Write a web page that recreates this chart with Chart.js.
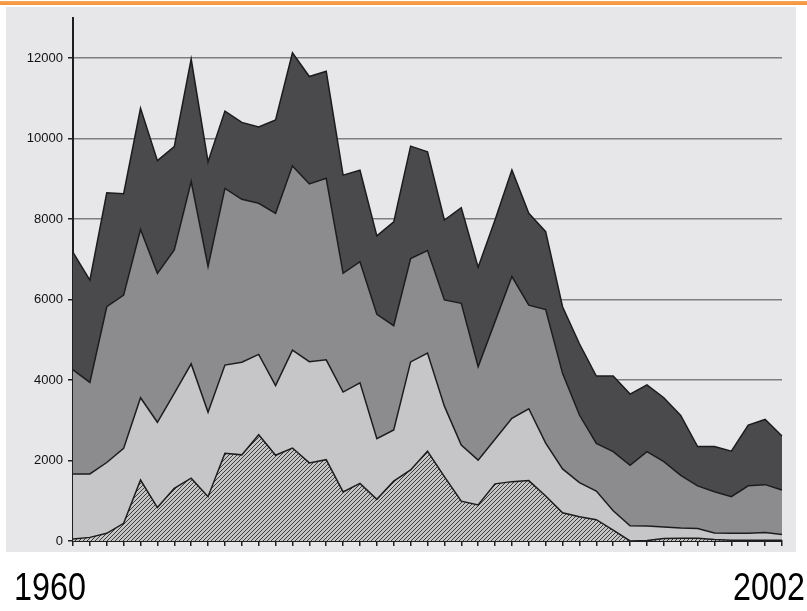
<!DOCTYPE html>
<html>
<head>
<meta charset="utf-8">
<script src="https://cdn.jsdelivr.net/npm/chart.js@4"></script>
<style>
  html, body { margin: 0; padding: 0; background: #ffffff; }
  body { width: 807px; height: 611px; position: relative; overflow: hidden; font-family: "Liberation Sans", Arial, sans-serif; }
  #topline { position: absolute; left: 0; top: 1px; width: 807px; height: 4px; background: linear-gradient(#f6a552, #f7923a); }
  #paper { position: absolute; left: 6px; top: 7px; width: 790px; height: 545px; background: #e7e7e9; }
  #wrap { position: absolute; left: 0; top: 0; width: 807px; height: 611px; }
  .yr { position: absolute; top: 568px; font-size: 38px; line-height: 38px; color: #000; transform: scaleX(0.85); transform-origin: left top; white-space: nowrap; }
</style>
</head>
<body>
<div id="topline"></div>
<div id="paper"></div>
<div id="wrap"><canvas id="c" width="807" height="611"></canvas></div>
<div class="yr" style="left:14px">1960</div>
<div class="yr" style="left:733px">2002</div>
<script>
// Years 1960..2002
const years = [];
for (let y = 1960; y <= 2002; y++) years.push(String(y));

// Four stacked series, bottom to top
const seriesBottom = [50, 90, 190, 440, 1515, 830, 1310, 1560, 1100, 2180, 2140, 2640, 2130, 2310, 1940, 2020, 1220, 1430, 1035, 1490, 1765, 2230, 1600, 990, 895, 1420, 1475, 1500, 1120, 700, 600, 530, 270, 0, 10, 60, 70, 70, 40, 20, 20, 20, 20];
const seriesLight  = [1615, 1575, 1760, 1860, 2045, 2120, 2360, 2840, 2100, 2190, 2300, 1995, 1730, 2430, 2515, 2480, 2480, 2500, 1505, 1270, 2685, 2440, 1750, 1395, 1115, 1110, 1575, 1785, 1310, 1090, 850, 710, 480, 380, 360, 290, 250, 240, 160, 170, 170, 190, 140];
const seriesMedium = [2585, 2275, 3870, 3810, 4180, 3700, 3560, 4530, 3620, 4390, 4050, 3755, 4280, 4580, 4415, 4510, 2950, 3010, 3090, 2590, 2570, 2545, 2640, 3520, 2320, 2920, 3520, 2575, 3320, 2375, 1680, 1185, 1470, 1500, 1850, 1620, 1310, 1060, 1025, 910, 1180, 1190, 1105];
const seriesDark   = [2920, 2540, 2830, 2520, 3010, 2800, 2570, 3045, 2600, 1920, 1910, 1895, 2320, 2810, 2670, 2660, 2440, 2270, 1950, 2580, 2790, 2455, 1985, 2375, 2470, 2525, 2650, 2280, 1935, 1655, 1770, 1675, 1880, 1770, 1660, 1590, 1490, 975, 1120, 1130, 1510, 1620, 1345];

const yTicks = [0, 2000, 4000, 6000, 8000, 10000, 12000];

// hatch pattern for the bottom band
function makeHatch() {
  const p = document.createElement('canvas');
  p.width = 4; p.height = 4;
  const g = p.getContext('2d');
  g.fillStyle = '#c4c4c4';
  g.fillRect(0, 0, 4, 4);
  g.strokeStyle = '#3c3c3c';
  g.lineWidth = 1;
  g.beginPath();
  g.moveTo(-1, 5); g.lineTo(5, -1);
  g.moveTo(-1, 1); g.lineTo(1, -1);
  g.moveTo(3, 5); g.lineTo(5, 3);
  g.stroke();
  return g.createPattern(p, 'repeat');
}

const ctx = document.getElementById('c').getContext('2d');
const hatch = makeHatch();
const edge = '#1c1c1c';

new Chart(ctx, {
  type: 'line',
  data: {
    labels: years,
    datasets: [
      { label: 'A', data: seriesBottom, fill: 'origin', backgroundColor: hatch, borderColor: edge, borderWidth: 1.5, pointRadius: 0, tension: 0 },
      { label: 'B', data: seriesLight, fill: '-1', backgroundColor: '#c6c6c8', borderColor: edge, borderWidth: 1.5, pointRadius: 0, tension: 0 },
      { label: 'C', data: seriesMedium, fill: '-1', backgroundColor: '#8c8c8e', borderColor: edge, borderWidth: 1.5, pointRadius: 0, tension: 0 },
      { label: 'D', data: seriesDark, fill: '-1', backgroundColor: '#4a4a4c', borderColor: edge, borderWidth: 1.5, pointRadius: 0, tension: 0 }
    ]
  },
  options: {
    responsive: false,
    animation: false,
    events: [],
    layout: { padding: { left: 0, top: 17.75, right: 25, bottom: 64 } },
    plugins: { legend: { display: false }, tooltip: { enabled: false }, title: { display: false } },
    elements: { line: { borderJoinStyle: 'miter' } },
    scales: {
      x: {
        type: 'category',
        offset: false,
        ticks: { display: false },
        grid: { display: true, drawOnChartArea: false, drawTicks: true, tickLength: 5, tickColor: '#222', lineWidth: 1.5 },
        border: { display: true, color: '#1e1e1e', width: 2 },
        afterFit: (s) => { s.height = 6; }
      },
      y: {
        stacked: true,
        min: 0,
        max: 13000,
        afterBuildTicks: (s) => { s.ticks = yTicks.map(v => ({ value: v })); },
        ticks: { padding: 5, color: '#111111', font: { family: 'Liberation Sans', size: 13 }, callback: (v) => String(v) },
        grid: { color: (c) => c.tick && c.tick.value === 0 ? 'rgba(0,0,0,0)' : '#7f7f81', lineWidth: 1.5, tickLength: 5, tickColor: '#222' },
        border: { display: true, color: '#1e1e1e', width: 2 },
        afterFit: (s) => { s.width = 73; }
      }
    }
  }
});
</script>
</body>
</html>
